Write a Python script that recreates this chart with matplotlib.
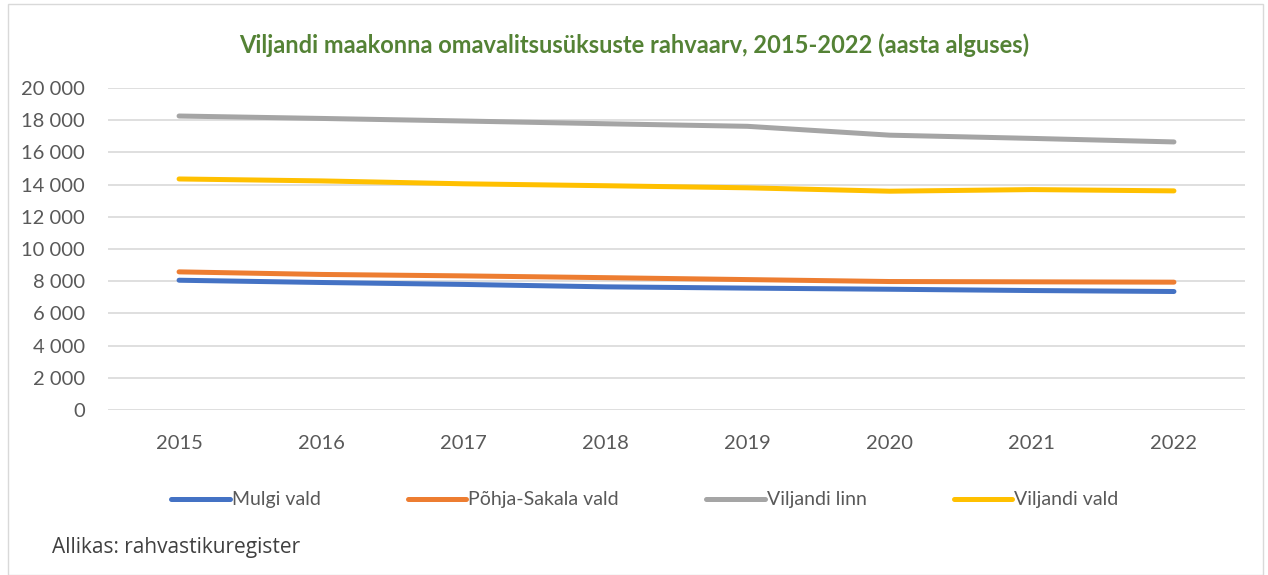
import matplotlib.pyplot as plt
from matplotlib.patches import Rectangle

plt.rcParams['font.family'] = ['Lato', 'DejaVu Sans']

years = ["2015", "2016", "2017", "2018", "2019", "2020", "2021", "2022"]
mulgi = [8060, 7920, 7800, 7650, 7570, 7500, 7420, 7360]
pohja_sakala = [8580, 8420, 8330, 8220, 8100, 7980, 7960, 7940]
viljandi_linn = [18260, 18110, 17950, 17780, 17620, 17070, 16870, 16650]
viljandi_vald = [14350, 14230, 14050, 13930, 13800, 13590, 13690, 13610]

series = [
    ("Mulgi vald", mulgi, "#4472C4"),
    ("Põhja-Sakala vald", pohja_sakala, "#ED7D31"),
    ("Viljandi linn", viljandi_linn, "#A5A5A5"),
    ("Viljandi vald", viljandi_vald, "#FFC000"),
]

fig = plt.figure(figsize=(12.68, 5.75), dpi=100)
ax = fig.add_axes([108 / 1268, 1 - 410 / 575, 1137 / 1268, 322 / 575])

x = range(len(years))
for name, vals, col in series:
    ax.plot(x, vals, color=col, lw=3.6, solid_capstyle="round", label=name)

ax.set_xlim(-0.5, len(years) - 0.5)
ax.set_ylim(0, 20000)
ax.set_yticks(range(0, 20001, 2000))
ax.set_yticklabels([f"{v:,}".replace(",", " ") for v in range(0, 20001, 2000)])
ax.set_xticks(list(x))
ax.set_xticklabels(years)
ax.grid(axis="y", color="#D9D9D9", lw=1.2)
ax.set_axisbelow(True)
for s in ax.spines.values():
    s.set_visible(False)
ax.tick_params(length=0, labelsize=14.5, colors="#595959")
ax.tick_params(axis="y", pad=16.5)
ax.tick_params(axis="x", pad=18)

fig.text(0.5, 1 - 45 / 575, "Viljandi maakonna omavalitsusüksuste rahvaarv, 2015-2022 (aasta alguses)",
         ha="center", va="center", fontsize=17, fontweight="bold", color="#548235")

fig.legend(loc="center", bbox_to_anchor=(645 / 1268, 1 - 500 / 575), ncol=4, frameon=False,
           fontsize=14, handlelength=3.0, handletextpad=0.1, columnspacing=4.5,
           labelcolor="#595959")

fig.text(52 / 1268, 1 - 548 / 575, "Allikas: rahvastikuregister", ha="left", va="center",
         fontsize=15, color="#404040", family=["Open Sans", "DejaVu Sans"])

fig.patches.append(Rectangle((8 / 1268, 0), 1255 / 1268, 1 - 4 / 575, transform=fig.transFigure,
                             fill=False, edgecolor="#D9D9D9", lw=1))

fig.savefig("out.png", dpi=100)
